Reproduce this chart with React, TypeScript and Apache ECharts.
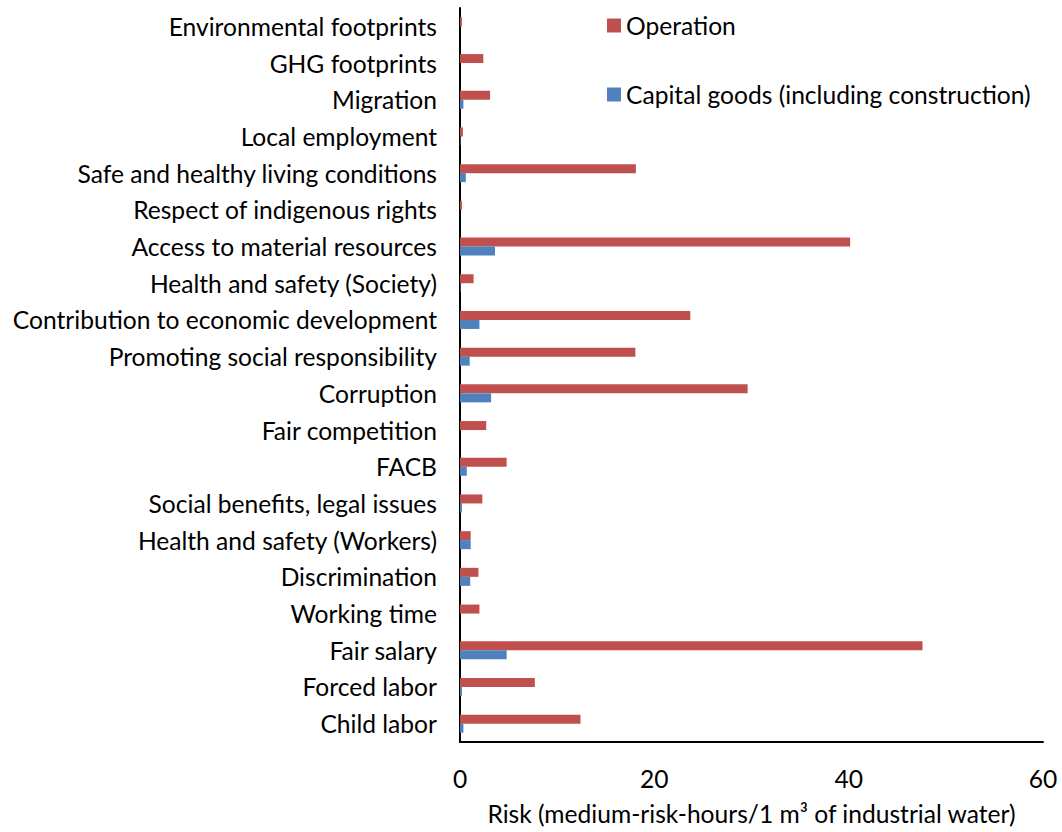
import React, { useEffect, useRef } from "react";
import * as echarts from "echarts";

const categories = [
  "Child labor",
  "Forced labor",
  "Fair salary",
  "Working time",
  "Discrimination",
  "Health and safety (Workers)",
  "Social benefits, legal issues",
  "FACB",
  "Fair competition",
  "Corruption",
  "Promoting social responsibility",
  "Contribution to economic development",
  "Health and safety (Society)",
  "Access to material resources",
  "Respect of indigenous rights",
  "Safe and healthy living conditions",
  "Local employment",
  "Migration",
  "GHG footprints",
  "Environmental footprints",
];

const operation = [12.4, 7.7, 47.6, 2.0, 1.9, 1.1, 2.3, 4.8, 2.7, 29.6, 18.05, 23.7, 1.4, 40.15, 0.2, 18.1, 0.3, 3.1, 2.4, 0.2];
const capitalGoods = [0.35, 0.2, 4.8, 0.0, 1.05, 1.1, 0.2, 0.7, 0.0, 3.2, 1.0, 2.0, 0.05, 3.6, 0.0, 0.6, 0.05, 0.35, 0.0, 0.0];

const xTicks = { min: 0, max: 60, interval: 20 };

const FONT = "Lato, 'Open Sans', sans-serif";
const FS = 24.6;

export default function App() {
  const ref = useRef<HTMLDivElement>(null);
  useEffect(() => {
    if (!ref.current) return;
    const chart = echarts.init(ref.current, null, { renderer: "svg" });
    chart.setOption({
      animation: false,
      textStyle: { fontFamily: FONT },
      grid: { left: 460, right: 19, top: 8, bottom: 90, containLabel: false, outerBoundsMode: "none" },
      legend: {
        orient: "vertical",
        left: 602,
        top: 8,
        itemWidth: 14,
        itemHeight: 14,
        itemGap: 44,
        icon: "rect",
        textStyle: { fontSize: FS, color: "#000", fontFamily: FONT },
        data: ["Operation", "Capital goods (including construction)"],
      },
      xAxis: {
        type: "value",
        min: xTicks.min,
        max: xTicks.max,
        interval: xTicks.interval,
        splitLine: { show: false },
        axisLine: { show: true, lineStyle: { color: "#000", width: 2 } },
        axisTick: { show: false },
        axisLabel: { fontSize: FS, color: "#000", margin: 24, fontFamily: FONT },
        name: "Risk (medium-risk-hours/1 m³ of industrial water)",
        nameLocation: "middle",
        nameGap: 59,
        nameTextStyle: { fontSize: FS, color: "#000", fontFamily: FONT },
      },
      yAxis: {
        type: "category",
        data: categories,
        axisLine: { show: true, lineStyle: { color: "#000", width: 2 } },
        axisTick: { show: false },
        axisLabel: { fontSize: FS, color: "#000", margin: 23, fontFamily: FONT, interval: 0 },
      },
      series: [
        {
          name: "Operation",
          type: "bar",
          data: operation,
          barWidth: 9,
          barGap: "0%",
          itemStyle: { color: "#C0504D" },
        },
        {
          name: "Capital goods (including construction)",
          type: "bar",
          data: capitalGoods,
          barWidth: 9,
          barGap: "0%",
          itemStyle: { color: "#4F81BD" },
        },
      ],
    });
    return () => chart.dispose();
  }, []);
  return (
    <div
      ref={ref}
      style={{ position: "absolute", left: 0, top: 0, width: 1062, height: 832 }}
    />
  );
}
